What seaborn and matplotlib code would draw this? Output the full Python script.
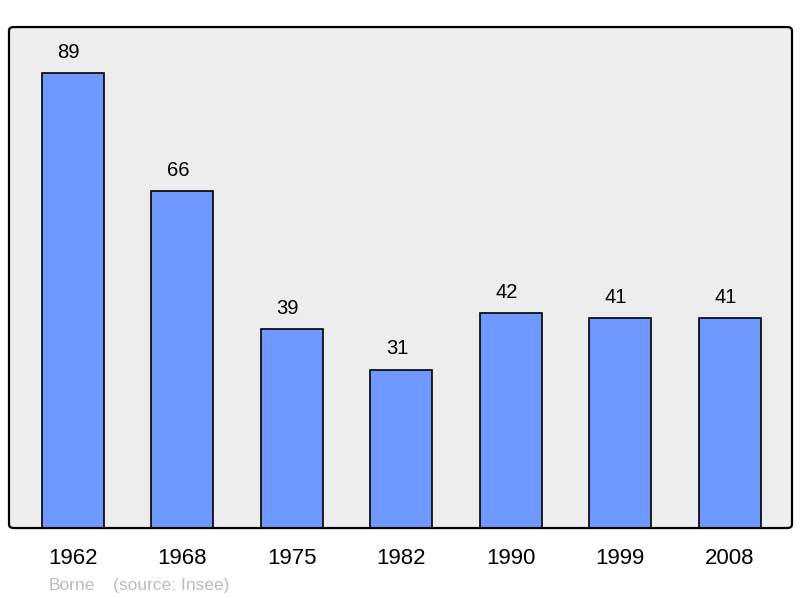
import pandas as pd
import seaborn as sns
import matplotlib.pyplot as plt
from matplotlib.patches import FancyBboxPatch

years = ["1962", "1968", "1975", "1982", "1990", "1999", "2008"]
population = [89, 66, 39, 31, 42, 41, 41]

sns.set_theme(style="white")
plt.rcParams['font.family'] = ['Liberation Sans', 'DejaVu Sans']

df = pd.DataFrame({"annee": years, "pop": population})

fig = plt.figure(figsize=(8, 5.98), dpi=100)
ax = fig.add_axes([0.01125, 0.117, 0.97875, 0.8378])
ax.set_facecolor("#ededed")

sns.barplot(data=df, x="annee", y="pop", color="#7099ff", saturation=1,
            width=0.567, edgecolor="black", linewidth=1.2, ax=ax)

ax.set_xlim(-0.585, 6.57)
ax.set_ylim(0, 98)
ax.set_yticks([])
ax.set_xlabel("")
ax.set_ylabel("")
ax.tick_params(axis="x", length=0, pad=14.5, labelsize=16, labelcolor="black")
labels = ax.bar_label(ax.containers[0], padding=8, fontsize=14.5, color="black")
# labels sit a little left of the bar centre in the original
for t in labels:
    t.xyann = (t.xyann[0] - 3, t.xyann[1])

for s in ax.spines.values():
    s.set_visible(False)

border = FancyBboxPatch((0.01125, 0.117), 0.97875, 0.8378,
                        boxstyle="round,pad=0,rounding_size=0.006",
                        transform=fig.transFigure, fill=False,
                        edgecolor="black", linewidth=1.6, zorder=10)
fig.patches.append(border)

fig.text(0.061, 0.013, "Borne", color="#bbbbbb", fontsize=12.5)
fig.text(0.141, 0.013, "(source: Insee)", color="#bbbbbb", fontsize=12.5)

fig.savefig("out.png", dpi=100)
